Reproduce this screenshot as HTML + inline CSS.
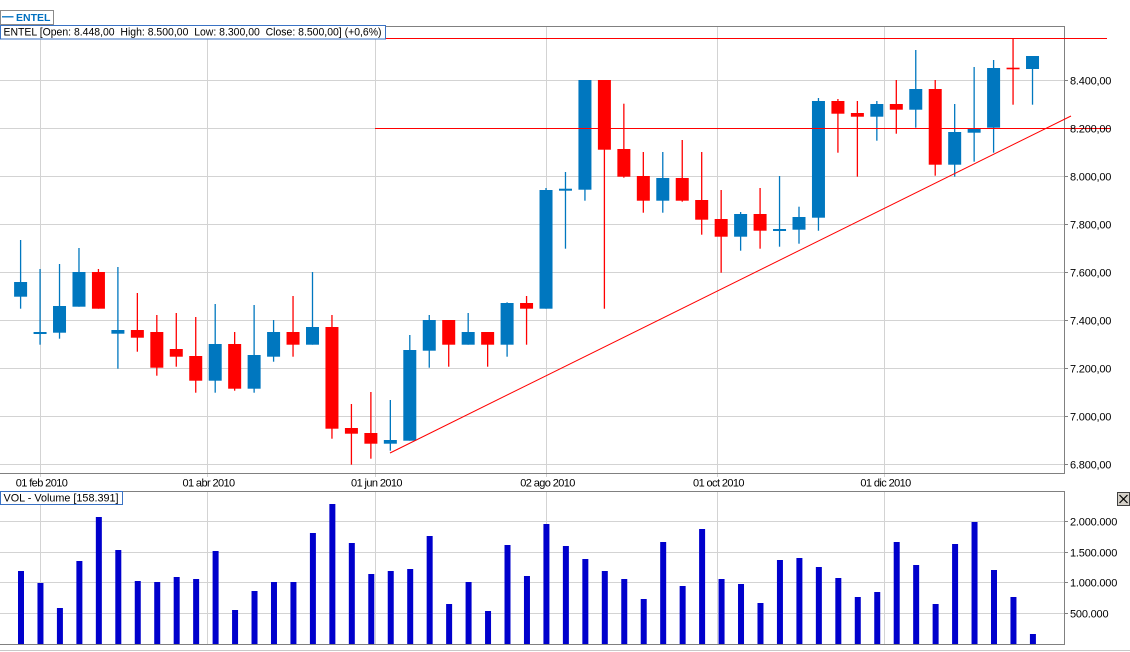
<!DOCTYPE html>
<html><head><meta charset="utf-8"><style>
html,body{margin:0;padding:0;background:#fff;}
svg{display:block;}
text{font-family:"Liberation Sans",Arial,sans-serif;}
</style></head><body>
<svg width="1130" height="652" viewBox="0 0 1130 652" xmlns="http://www.w3.org/2000/svg">
<rect x="0" y="0" width="1130" height="652" fill="#fff"/>
<g stroke="#d3d3d3" stroke-width="1">
<line x1="0" y1="80.5" x2="1064" y2="80.5"/>
<line x1="0" y1="128.5" x2="1064" y2="128.5"/>
<line x1="0" y1="176.5" x2="1064" y2="176.5"/>
<line x1="0" y1="224.5" x2="1064" y2="224.5"/>
<line x1="0" y1="272.5" x2="1064" y2="272.5"/>
<line x1="0" y1="320.5" x2="1064" y2="320.5"/>
<line x1="0" y1="368.5" x2="1064" y2="368.5"/>
<line x1="0" y1="416.5" x2="1064" y2="416.5"/>
<line x1="0" y1="464.5" x2="1064" y2="464.5"/>
<line x1="40.5" y1="26" x2="40.5" y2="477"/>
<line x1="207.5" y1="26" x2="207.5" y2="477"/>
<line x1="375.5" y1="26" x2="375.5" y2="477"/>
<line x1="546.5" y1="26" x2="546.5" y2="477"/>
<line x1="717.5" y1="26" x2="717.5" y2="477"/>
<line x1="884.5" y1="26" x2="884.5" y2="477"/>
<line x1="0" y1="521.5" x2="1064" y2="521.5"/>
<line x1="0" y1="552.5" x2="1064" y2="552.5"/>
<line x1="0" y1="582.5" x2="1064" y2="582.5"/>
<line x1="0" y1="613.5" x2="1064" y2="613.5"/>
<line x1="40.5" y1="491" x2="40.5" y2="644"/>
<line x1="207.5" y1="491" x2="207.5" y2="644"/>
<line x1="375.5" y1="491" x2="375.5" y2="644"/>
<line x1="546.5" y1="491" x2="546.5" y2="644"/>
<line x1="717.5" y1="491" x2="717.5" y2="644"/>
<line x1="884.5" y1="491" x2="884.5" y2="644"/>
</g>
<g stroke="#808080" stroke-width="1" fill="none">
<polyline points="0,26.5 1064.5,26.5 1064.5,473.5 0,473.5"/>
<polyline points="0,491.5 1064.5,491.5 1064.5,644.5 0,644.5"/>
<line x1="1064" y1="80.5" x2="1068" y2="80.5"/>
<line x1="1064" y1="128.5" x2="1068" y2="128.5"/>
<line x1="1064" y1="176.5" x2="1068" y2="176.5"/>
<line x1="1064" y1="224.5" x2="1068" y2="224.5"/>
<line x1="1064" y1="272.5" x2="1068" y2="272.5"/>
<line x1="1064" y1="320.5" x2="1068" y2="320.5"/>
<line x1="1064" y1="368.5" x2="1068" y2="368.5"/>
<line x1="1064" y1="416.5" x2="1068" y2="416.5"/>
<line x1="1064" y1="464.5" x2="1068" y2="464.5"/>
<line x1="1064" y1="521.5" x2="1068" y2="521.5"/>
<line x1="1064" y1="552.5" x2="1068" y2="552.5"/>
<line x1="1064" y1="582.5" x2="1068" y2="582.5"/>
<line x1="1064" y1="613.5" x2="1068" y2="613.5"/>
</g>
<line x1="0" y1="650.5" x2="1130" y2="650.5" stroke="#c8c8c8" stroke-width="1"/>

<g stroke="#0077bf" stroke-width="1.3" fill="#0077bf">
<line x1="20.6" y1="240" x2="20.6" y2="308.7"/><rect x="14.1" y="282" width="13" height="14.7" stroke="none"/>
<line x1="40.06" y1="269" x2="40.06" y2="344.7"/><rect x="33.56" y="332" width="13" height="2" stroke="none"/>
<line x1="59.52" y1="264" x2="59.52" y2="338.7"/><rect x="53.02" y="306" width="13" height="26.7" stroke="none"/>
<line x1="78.98" y1="248" x2="78.98" y2="306.7"/><rect x="72.48" y="272" width="13" height="34.7" stroke="none"/>
<line x1="117.9" y1="267" x2="117.9" y2="368.7"/><rect x="111.4" y="330" width="13" height="3.7" stroke="none"/>
<line x1="215.2" y1="304" x2="215.2" y2="392.7"/><rect x="208.7" y="344" width="13" height="36.7" stroke="none"/>
<line x1="254.12" y1="305" x2="254.12" y2="392.7"/><rect x="247.62" y="355" width="13" height="33.7" stroke="none"/>
<line x1="273.58" y1="320" x2="273.58" y2="361.7"/><rect x="267.08" y="332" width="13" height="24.7" stroke="none"/>
<line x1="312.5" y1="272" x2="312.5" y2="344.7"/><rect x="306" y="327" width="13" height="17.7" stroke="none"/>
<line x1="390.34" y1="400" x2="390.34" y2="450.7"/><rect x="383.84" y="440" width="13" height="3.7" stroke="none"/>
<line x1="409.8" y1="335" x2="409.8" y2="440.7"/><rect x="403.3" y="350" width="13" height="90.7" stroke="none"/>
<line x1="429.26" y1="315" x2="429.26" y2="367.7"/><rect x="422.76" y="320" width="13" height="30.7" stroke="none"/>
<line x1="468.18" y1="313" x2="468.18" y2="344.7"/><rect x="461.68" y="332" width="13" height="12.7" stroke="none"/>
<line x1="507.1" y1="302.3" x2="507.1" y2="356.7"/><rect x="500.6" y="303" width="13" height="41.7" stroke="none"/>
<line x1="546.02" y1="188" x2="546.02" y2="308.7"/><rect x="539.52" y="190" width="13" height="118.7" stroke="none"/>
<line x1="565.48" y1="172" x2="565.48" y2="248.7"/><rect x="558.98" y="188.7" width="13" height="2" stroke="none"/>
<line x1="584.94" y1="80" x2="584.94" y2="200.7"/><rect x="578.44" y="80" width="13" height="109.7" stroke="none"/>
<line x1="662.78" y1="152" x2="662.78" y2="212.7"/><rect x="656.28" y="178" width="13" height="22.7" stroke="none"/>
<line x1="740.62" y1="212" x2="740.62" y2="250.7"/><rect x="734.12" y="214" width="13" height="22.7" stroke="none"/>
<line x1="779.54" y1="176" x2="779.54" y2="246.7"/><rect x="773.04" y="229" width="13" height="2" stroke="none"/>
<line x1="799" y1="206.7" x2="799" y2="243.7"/><rect x="792.5" y="217" width="13" height="12.7" stroke="none"/>
<line x1="818.46" y1="98" x2="818.46" y2="230.7"/><rect x="811.96" y="101" width="13" height="116.7" stroke="none"/>
<line x1="876.84" y1="101" x2="876.84" y2="140.7"/><rect x="870.34" y="104" width="13" height="12.7" stroke="none"/>
<line x1="915.76" y1="50" x2="915.76" y2="127.7"/><rect x="909.26" y="89" width="13" height="20.7" stroke="none"/>
<line x1="954.68" y1="104" x2="954.68" y2="176.7"/><rect x="948.18" y="132" width="13" height="32.7" stroke="none"/>
<line x1="974.14" y1="67" x2="974.14" y2="161.7"/><rect x="967.64" y="129" width="13" height="3.7" stroke="none"/>
<line x1="993.6" y1="60" x2="993.6" y2="152.7"/><rect x="987.1" y="68" width="13" height="59.7" stroke="none"/>
<line x1="1032.52" y1="56" x2="1032.52" y2="104.7"/><rect x="1026.02" y="56" width="13" height="13" stroke="none"/>
</g>
<g stroke="#ff0000" stroke-width="1.3" fill="#ff0000">
<line x1="98.44" y1="269" x2="98.44" y2="308.7"/><rect x="91.94" y="272" width="13" height="36.7" stroke="none"/>
<line x1="137.36" y1="293" x2="137.36" y2="351.7"/><rect x="130.86" y="330" width="13" height="7.7" stroke="none"/>
<line x1="156.82" y1="315" x2="156.82" y2="375.7"/><rect x="150.32" y="332" width="13" height="35.7" stroke="none"/>
<line x1="176.28" y1="313" x2="176.28" y2="366.7"/><rect x="169.78" y="349" width="13" height="7.7" stroke="none"/>
<line x1="195.74" y1="317" x2="195.74" y2="392.7"/><rect x="189.24" y="356" width="13" height="24.7" stroke="none"/>
<line x1="234.66" y1="332" x2="234.66" y2="390.7"/><rect x="228.16" y="344" width="13" height="44.7" stroke="none"/>
<line x1="293.04" y1="296" x2="293.04" y2="356.7"/><rect x="286.54" y="332" width="13" height="12.7" stroke="none"/>
<line x1="331.96" y1="315" x2="331.96" y2="438.7"/><rect x="325.46" y="327" width="13" height="101.7" stroke="none"/>
<line x1="351.42" y1="404" x2="351.42" y2="464.7"/><rect x="344.92" y="428" width="13" height="5.7" stroke="none"/>
<line x1="370.88" y1="392" x2="370.88" y2="458.7"/><rect x="364.38" y="433" width="13" height="10.7" stroke="none"/>
<line x1="448.72" y1="320" x2="448.72" y2="366.7"/><rect x="442.22" y="320" width="13" height="24.7" stroke="none"/>
<line x1="487.64" y1="332" x2="487.64" y2="366.7"/><rect x="481.14" y="332" width="13" height="12.7" stroke="none"/>
<line x1="526.56" y1="296" x2="526.56" y2="344.7"/><rect x="520.06" y="303" width="13" height="5.7" stroke="none"/>
<line x1="604.4" y1="80" x2="604.4" y2="308.7"/><rect x="597.9" y="80" width="13" height="69.7" stroke="none"/>
<line x1="623.86" y1="103.7" x2="623.86" y2="177.7"/><rect x="617.36" y="149" width="13" height="27.7" stroke="none"/>
<line x1="643.32" y1="152" x2="643.32" y2="212.7"/><rect x="636.82" y="176" width="13" height="24.7" stroke="none"/>
<line x1="682.24" y1="140" x2="682.24" y2="201.7"/><rect x="675.74" y="178" width="13" height="22.7" stroke="none"/>
<line x1="701.7" y1="152" x2="701.7" y2="234.7"/><rect x="695.2" y="200" width="13" height="19.7" stroke="none"/>
<line x1="721.16" y1="190" x2="721.16" y2="272.7"/><rect x="714.66" y="219" width="13" height="17.7" stroke="none"/>
<line x1="760.08" y1="188" x2="760.08" y2="248.7"/><rect x="753.58" y="214" width="13" height="16.7" stroke="none"/>
<line x1="837.92" y1="99" x2="837.92" y2="152.7"/><rect x="831.42" y="101" width="13" height="12.7" stroke="none"/>
<line x1="857.38" y1="101" x2="857.38" y2="176.7"/><rect x="850.88" y="113" width="13" height="3.7" stroke="none"/>
<line x1="896.3" y1="80" x2="896.3" y2="133.7"/><rect x="889.8" y="104" width="13" height="5.7" stroke="none"/>
<line x1="935.22" y1="80" x2="935.22" y2="175.7"/><rect x="928.72" y="89" width="13" height="75.7" stroke="none"/>
<line x1="1013.06" y1="39" x2="1013.06" y2="104.7"/><rect x="1006.56" y="67.7" width="13" height="1.6" stroke="none"/>
</g>

<g stroke="#ff0000" stroke-width="1" fill="none">
<line x1="376" y1="38.5" x2="1107" y2="38.5"/>
<line x1="375" y1="128.5" x2="1110" y2="128.5"/>
<line x1="390" y1="453" x2="1071" y2="116"/>
</g>

<g fill="#0000cc">
<rect x="18" y="571" width="6" height="73"/>
<rect x="37.46" y="583" width="6" height="61"/>
<rect x="56.92" y="608" width="6" height="36"/>
<rect x="76.38" y="561" width="6" height="83"/>
<rect x="95.84" y="517" width="6" height="127"/>
<rect x="115.3" y="550" width="6" height="94"/>
<rect x="134.76" y="581" width="6" height="63"/>
<rect x="154.22" y="582" width="6" height="62"/>
<rect x="173.68" y="577" width="6" height="67"/>
<rect x="193.14" y="579" width="6" height="65"/>
<rect x="212.6" y="551" width="6" height="93"/>
<rect x="232.06" y="610" width="6" height="34"/>
<rect x="251.52" y="591" width="6" height="53"/>
<rect x="270.98" y="582" width="6" height="62"/>
<rect x="290.44" y="582" width="6" height="62"/>
<rect x="309.9" y="533" width="6" height="111"/>
<rect x="329.36" y="504" width="6" height="140"/>
<rect x="348.82" y="543" width="6" height="101"/>
<rect x="368.28" y="574" width="6" height="70"/>
<rect x="387.74" y="571" width="6" height="73"/>
<rect x="407.2" y="569" width="6" height="75"/>
<rect x="426.66" y="536" width="6" height="108"/>
<rect x="446.12" y="604" width="6" height="40"/>
<rect x="465.58" y="582" width="6" height="62"/>
<rect x="485.04" y="611" width="6" height="33"/>
<rect x="504.5" y="545" width="6" height="99"/>
<rect x="523.96" y="576" width="6" height="68"/>
<rect x="543.42" y="524" width="6" height="120"/>
<rect x="562.88" y="546" width="6" height="98"/>
<rect x="582.34" y="559" width="6" height="85"/>
<rect x="601.8" y="571" width="6" height="73"/>
<rect x="621.26" y="579" width="6" height="65"/>
<rect x="640.72" y="599" width="6" height="45"/>
<rect x="660.18" y="542" width="6" height="102"/>
<rect x="679.64" y="586" width="6" height="58"/>
<rect x="699.1" y="529" width="6" height="115"/>
<rect x="718.56" y="579" width="6" height="65"/>
<rect x="738.02" y="584" width="6" height="60"/>
<rect x="757.48" y="603" width="6" height="41"/>
<rect x="776.94" y="560" width="6" height="84"/>
<rect x="796.4" y="558" width="6" height="86"/>
<rect x="815.86" y="567" width="6" height="77"/>
<rect x="835.32" y="578" width="6" height="66"/>
<rect x="854.78" y="597" width="6" height="47"/>
<rect x="874.24" y="592" width="6" height="52"/>
<rect x="893.7" y="542" width="6" height="102"/>
<rect x="913.16" y="565" width="6" height="79"/>
<rect x="932.62" y="604" width="6" height="40"/>
<rect x="952.08" y="544" width="6" height="100"/>
<rect x="971.54" y="522" width="6" height="122"/>
<rect x="991" y="570" width="6" height="74"/>
<rect x="1010.46" y="597" width="6" height="47"/>
<rect x="1029.92" y="634" width="6" height="10"/>
</g>

<g font-size="11" fill="#000" letter-spacing="-0.2">
<text x="1070" y="84.5">8.400,00</text>
<text x="1070" y="132.5">8.200,00</text>
<text x="1070" y="180.5">8.000,00</text>
<text x="1070" y="228.5">7.800,00</text>
<text x="1070" y="276.5">7.600,00</text>
<text x="1070" y="324.5">7.400,00</text>
<text x="1070" y="372.5">7.200,00</text>
<text x="1070" y="420.5">7.000,00</text>
<text x="1070" y="468.5">6.800,00</text>
<text x="1070" y="525.5">2.000.000</text>
<text x="1070" y="556.5">1.500.000</text>
<text x="1070" y="586.5">1.000.000</text>
<text x="1070" y="617.5">500.000</text>
</g>
<g font-size="11" fill="#000" text-anchor="middle" letter-spacing="-0.6">
<text x="41.5" y="486.5">01 feb 2010</text>
<text x="208.5" y="486.5">01 abr 2010</text>
<text x="376.5" y="486.5">01 jun 2010</text>
<text x="547.5" y="486.5">02 ago 2010</text>
<text x="718.5" y="486.5">01 oct 2010</text>
<text x="885.5" y="486.5">01 dic 2010</text>
</g>

<rect x="0.5" y="10.5" width="53" height="14" fill="#fff" stroke="#8a8a8a" stroke-width="1"/>
<line x1="2" y1="16.8" x2="13.5" y2="16.8" stroke="#0070c0" stroke-width="1.3"/>
<text x="16" y="21" font-size="10.5" font-weight="bold" fill="#0070c0">ENTEL</text>
<rect x="0.5" y="25.5" width="385" height="13.5" fill="#fff" stroke="#3a72c4" stroke-width="1"/>
<text x="3.5" y="35.5" font-size="11" fill="#000" textLength="378" lengthAdjust="spacingAndGlyphs" xml:space="preserve">ENTEL [Open: 8.448,00  High: 8.500,00  Low: 8.300,00  Close: 8.500,00] (+0,6%)</text>
<rect x="0.5" y="491.5" width="122" height="13" fill="#fff" stroke="#3a72c4" stroke-width="1"/>
<text x="3.5" y="501.5" font-size="11" fill="#000" textLength="115" lengthAdjust="spacingAndGlyphs">VOL - Volume [158.391]</text>

<rect x="1117.5" y="492.5" width="12" height="13" fill="#d4d0c8" stroke="#404040" stroke-width="1"/>
<line x1="1119.5" y1="495" x2="1127.5" y2="503" stroke="#000" stroke-width="1.2"/>
<line x1="1127.5" y1="495" x2="1119.5" y2="503" stroke="#000" stroke-width="1.2"/>
</svg>
</body></html>
